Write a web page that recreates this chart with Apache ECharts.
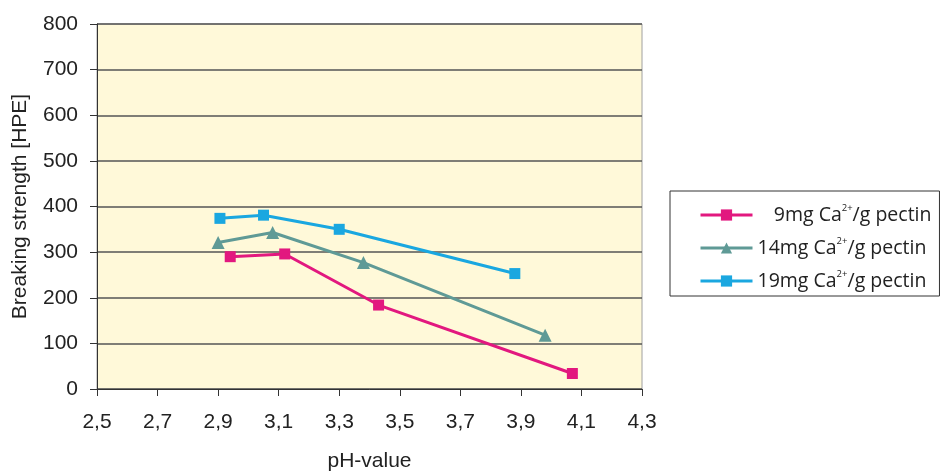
<!DOCTYPE html>
<html>
<head>
<meta charset="utf-8">
<script src="https://cdn.jsdelivr.net/npm/echarts@6/dist/echarts.min.js"></script>
<style>html,body{margin:0;padding:0;background:#fff}#c{width:944px;height:471px}</style>
</head>
<body>
<div id="c"></div>
<script>
const seriesNames = ['9mg', '14mg', '19mg'];
const ph9 = [2.94, 3.12, 3.43, 4.07];
const val9 = [290, 296, 184, 34];
const ph14 = [2.90, 3.08, 3.38, 3.98];
const val14 = [321, 343, 277, 118];
const ph19 = [2.906, 3.05, 3.30, 3.88];
const val19 = [374, 381, 350, 253];
const xTicks = [2.5, 2.7, 2.9, 3.1, 3.3, 3.5, 3.7, 3.9, 4.1, 4.3];
const colors = ['#E2187F', '#5F9A96', '#1AA7E0'];
const symbols = ['rect', 'triangle', 'rect'];

const pairs = (xs, ys) => xs.map((x, i) => [x, ys[i]]);
const dataSets = [pairs(ph9, val9), pairs(ph14, val14), pairs(ph19, val19)];

const chart = echarts.init(document.getElementById('c'), null, {renderer: 'canvas'});
const axisFont = {fontFamily: 'Liberation Sans', fontSize: 21, color: '#222'};

chart.setOption({
  animation: false,
  grid: {left: 97, right: 302, top: 24, bottom: 82, outerBoundsMode: 'none', containLabel: false,
         show: true, backgroundColor: '#FFF9D9', borderColor: '#A0A0A0', borderWidth: 1},
  xAxis: {
    type: 'value', min: 2.5, max: 4.3,
    name: 'pH-value', nameLocation: 'middle', nameGap: 62,
    nameTextStyle: axisFont,
    axisLine: {show: true, lineStyle: {color: '#333', width: 1}},
    axisTick: {show: true, length: 7, lineStyle: {color: '#333'}, customValues: xTicks},
    axisLabel: Object.assign({margin: 23, customValues: xTicks, formatter: v => v.toFixed(1).replace('.', ',')}, axisFont),
    splitLine: {show: false}
  },
  yAxis: {
    type: 'value', min: 0, max: 800, interval: 100,
    name: 'Breaking strength [HPE]', nameLocation: 'middle', nameGap: 66,
    nameTextStyle: axisFont,
    axisLine: {show: true, lineStyle: {color: '#333', width: 1}},
    axisTick: {show: true, length: 7, lineStyle: {color: '#333'}},
    axisLabel: Object.assign({margin: 19}, axisFont),
    splitLine: {show: true, lineStyle: {color: '#555', width: 1.5}}
  },
  legend: {
    orient: 'vertical', left: 670, top: 191,
    padding: [12, 8, 5, 29],
    itemWidth: 52, itemHeight: 14, itemGap: 11,
    borderColor: '#333', borderWidth: 1, backgroundColor: '#fff',
    data: seriesNames,
    lineStyle: {width: 3},
    formatter: n => (n === '9mg' ? '{a|\u2007\u20089mg Ca}' : '{a|' + n + ' Ca}') + '{s|2+}{a|/g pectin}',
    textStyle: {
      fontFamily: 'Open Sans', fontSize: 19.5, color: '#222',
      rich: {
        a: {fontFamily: 'Open Sans', fontSize: 19.5, color: '#222', lineHeight: 24},
        s: {fontFamily: 'Open Sans', fontSize: 9.5, color: '#222', verticalAlign: 'top', lineHeight: 22}
      }
    }
  },
  series: seriesNames.map((n, i) => ({
    name: n, type: 'line', data: dataSets[i],
    symbol: symbols[i], symbolSize: i === 1 ? 13 : 11,
    itemStyle: {color: colors[i]},
    lineStyle: {color: colors[i], width: 3}
  }))
});
</script>
</body>
</html>
